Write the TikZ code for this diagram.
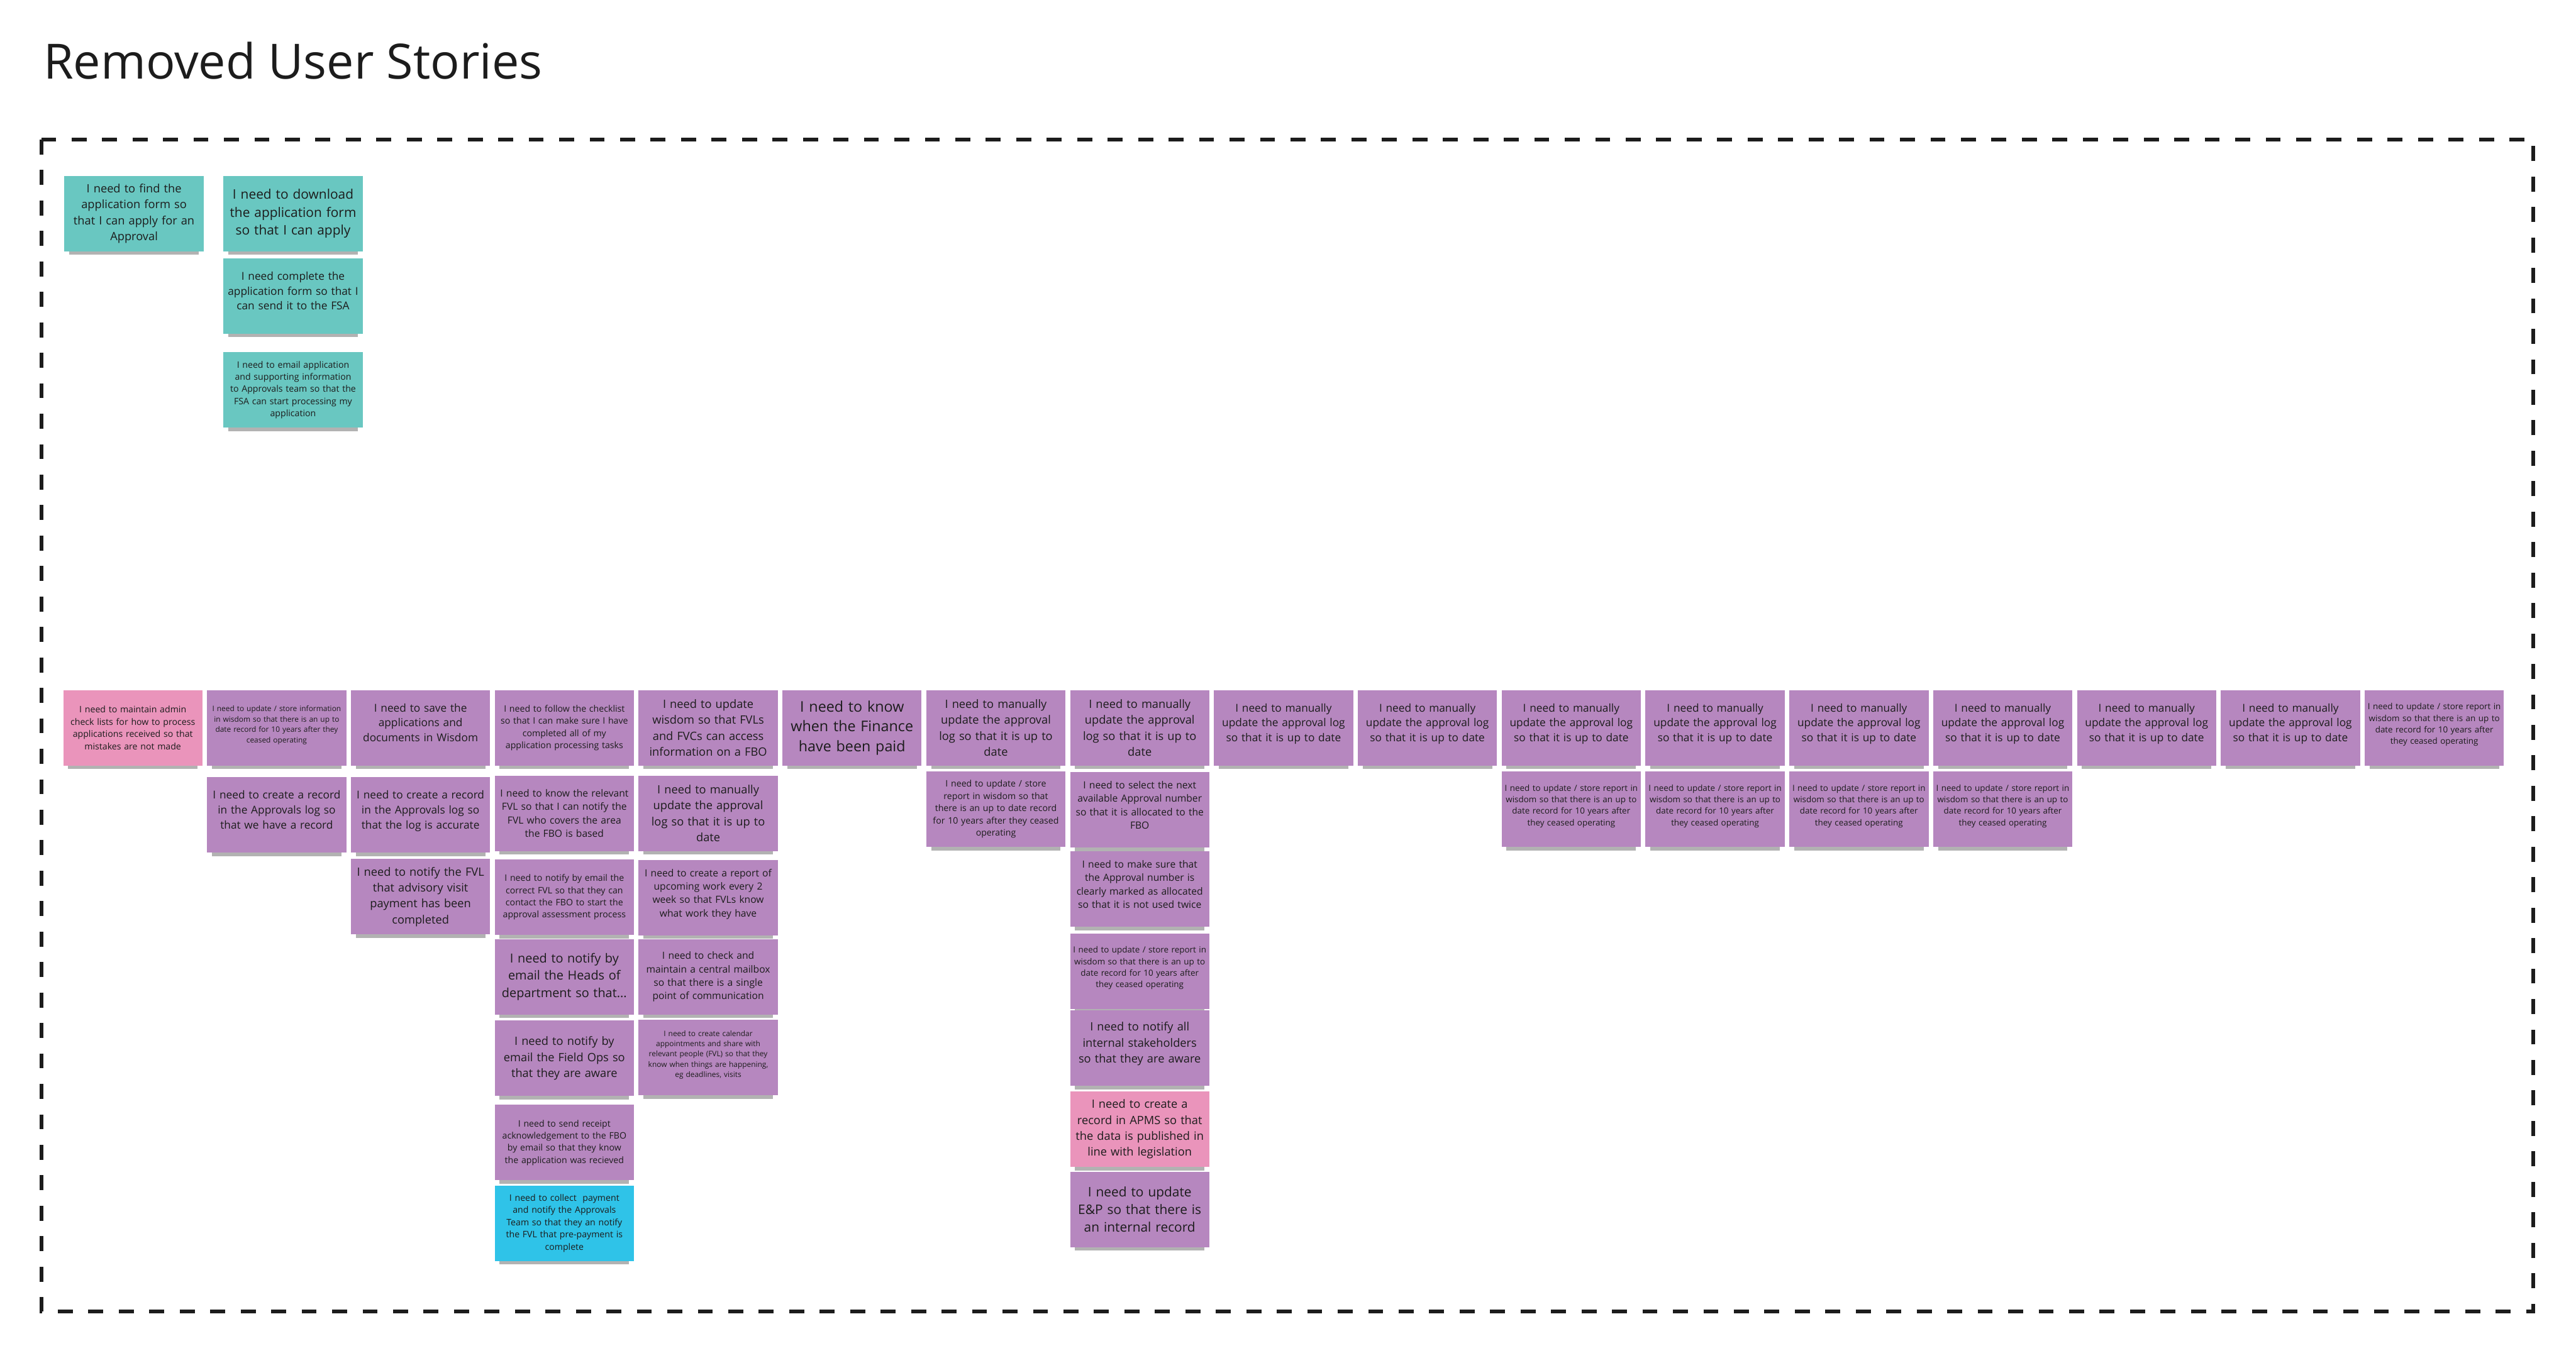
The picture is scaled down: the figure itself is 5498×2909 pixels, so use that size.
\documentclass[tikz,border=0pt]{standalone}
\usepackage{fontspec}
\setmainfont{Open Sans}
\usetikzlibrary{shadows}
\definecolor{noteteal}{HTML}{69C7C1}
\definecolor{noteviolet}{HTML}{B687BF}
\definecolor{notepink}{HTML}{EA94BB}
\definecolor{noteblue}{HTML}{2FC3E8}
\definecolor{ink}{HTML}{1C1C1C}
\newcommand{\liftup}{\\[-0.4em]\mbox{}}

\begin{document}
\begin{tikzpicture}[x=0.01cm,y=-0.01cm,
  sticky/.style={fill=#1, text=ink, align=center, inner sep=0pt,
    minimum width=2.97cm, minimum height=1.61cm, text width=2.85cm,
    drop shadow={shadow xshift=0cm, shadow yshift=-0.14cm, shadow scale=0.93,
      fill=black, opacity=0.3}},
  fs/.style 2 args={font=\fontsize{#1}{#2}\selectfont},
  s16/.style={fs={4.55}{6.26}},
  s18/.style={fs={5.12}{7.0}},
  s19/.style={fs={5.4}{7.4}},
  s21/.style={fs={5.97}{8.17}},
  s23/.style={fs={6.6}{9.0}},
  s25/.style={fs={6.97}{9.67}},
  s27/.style={fs={7.6}{10.4}},
  s28/.style={fs={7.97}{10.8}},
  s31/.style={fs={8.9}{12.1}},
  storyframe/.style={draw=ink, line width=0.08cm, dash pattern=on 0.32cm off 0.33cm}]
  \useasboundingbox (0,0) rectangle (5498,2909);

  \node[anchor=base west, inner sep=0pt, text=ink, fs={29.5}{35}] (title) at (92,168) {Removed User Stories};
  \draw[storyframe] (89,298) rectangle (5407,2800);

  % applicant stories
  \node[sticky=noteteal, s25] (t1) at (286,456) {I need to find the\\application form so\\that I can apply for an\\Approval};
  \node[sticky=noteteal, s28] (t2) at (625.5,456) {I need to download\\the application form\\so that I can apply};
  \node[sticky=noteteal, s23] (t3) at (625.5,632) {I need complete the\\application form so that I\\can send it to the FSA\liftup};
  \node[sticky=noteteal, s19] (t4) at (625.5,832.5) {I need to email application\\and supporting information\\to Approvals team so that the\\FSA can start processing my\\application};

  % columns 1--3
  \node[sticky=notepink, s19] (c1-1) at (283.5,1554) {I need to maintain admin\\check lists for how to process\\applications received so that\\mistakes are not made};
  \node[sticky=noteviolet, s16] (c2-1) at (590.5,1554) {I need to update / store information\\in wisdom so that there is an up to\\date record for 10 years after they\\ceased operating\liftup};
  \node[sticky=noteviolet, s23] (c2-2) at (590.5,1740) {I need to create a record\\in the Approvals log so\\that we have a record\liftup};
  \node[sticky=noteviolet, s23] (c3-1) at (897.5,1554) {I need to save the\\applications and\\documents in Wisdom\liftup};
  \node[sticky=noteviolet, s23] (c3-2) at (897.5,1740) {I need to create a record\\in the Approvals log so\\that the log is accurate\liftup};
  \node[sticky=noteviolet, s25] (c3-3) at (897.5,1914.5) {I need to notify the FVL\\that advisory visit\\payment has been\\completed};

  % column 4
  \node[sticky=noteviolet, s19] (c4-1) at (1204.5,1554) {I need to follow the checklist\\so that I can make sure I have\\completed all of my\\application processing tasks};
  \node[sticky=noteviolet, s21] (c4-2) at (1204.5,1736.5) {I need to know the relevant\\FVL so that I can notify the\\FVL who covers the area\\the FBO is based};
  \node[sticky=noteviolet, s19] (c4-3) at (1204.5,1915.5) {I need to notify by email the\\correct FVL so that they can\\contact the FBO to start the\\approval assessment process};
  \node[sticky=noteviolet, s27] (c4-4) at (1204.5,2085.5) {I need to notify by\\email the Heads of\\department so that...};
  \node[sticky=noteviolet, s25] (c4-5) at (1204.5,2259.5) {I need to notify by\\email the Field Ops so\\that they are aware};
  \node[sticky=noteviolet, s19] (c4-6) at (1204.5,2439.5) {I need to send receipt\\acknowledgement to the FBO\\by email so that they know\\the application was recieved};
  \node[sticky=noteblue, s19] (c4-7) at (1204.5,2611.5) {I need to collect\ \ payment\\and notify the Approvals\\Team so that they an notify\\the FVL that pre-payment is\\complete};

  % column 5
  \node[sticky=noteviolet, s25] (c5-1) at (1511.5,1554) {I need to update\\wisdom so that FVLs\\and FVCs can access\\information on a FBO};
  \node[sticky=noteviolet, s25] (c5-2) at (1511.5,1736.5) {I need to manually\\update the approval\\log so that it is up to\\date};
  \node[sticky=noteviolet, s21] (c5-3) at (1511.5,1916.5) {I need to create a report of\\upcoming work every 2\\week so that FVLs know\\what work they have\liftup};
  \node[sticky=noteviolet, s21] (c5-4) at (1511.5,2085.5) {I need to check and\\maintain a central mailbox\\so that there is a single\\point of communication};
  \node[sticky=noteviolet, s16] (c5-5) at (1511.5,2258) {I need to create calendar\\appointments and share with\\relevant people (FVL) so that they\\know when things are happening,\\eg deadlines, visits\liftup};

  % columns 6--8
  \node[sticky=noteviolet, s31] (c6-1) at (1818.5,1554) {I need to know\\when the Finance\\have been paid};
  \node[sticky=noteviolet, s25] (c7-1) at (2125.5,1554) {I need to manually\\update the approval\\log so that it is up to\\date};
  \node[sticky=noteviolet, s19] (c7-2) at (2125.5,1727.5) {I need to update / store\\report in wisdom so that\\there is an up to date record\\for 10 years after they ceased\\operating};
  \node[sticky=noteviolet, s25] (c8-1) at (2432.5,1554) {I need to manually\\update the approval\\log so that it is up to\\date};
  \node[sticky=noteviolet, s21] (c8-2) at (2432.5,1729) {I need to select the next\\available Approval number\\so that it is allocated to the\\FBO\liftup};
  \node[sticky=noteviolet, s21] (c8-3) at (2432.5,1898) {I need to make sure that\\the Approval number is\\clearly marked as allocated\\so that it is not used twice\liftup};
  \node[sticky=noteviolet, s18] (c8-4) at (2432.5,2073.5) {I need to update / store report in\\wisdom so that there is an up to\\date record for 10 years after\\they ceased operating\liftup};
  \node[sticky=noteviolet, s25] (c8-5) at (2432.5,2238) {I need to notify all\\internal stakeholders\\so that they are aware\liftup};
  \node[sticky=notepink, s25] (c8-6) at (2432.5,2411) {I need to create a\\record in APMS so that\\the data is published in\\line with legislation};
  \node[sticky=noteviolet, s28] (c8-7) at (2432.5,2582) {I need to update\\E\&P so that there is\\an internal record};

  % columns 9--17
  \foreach \i in {9,...,16}
    \node[sticky=noteviolet, s23] (c\i-1) at ({283.5+(\i-1)*307},1554) {I need to manually\\update the approval log\\so that it is up to date\liftup};
  \foreach \i in {11,...,14}
    \node[sticky=noteviolet, s18] (c\i-2) at ({283.5+(\i-1)*307},1727.5) {I need to update / store report in\\wisdom so that there is an up to\\date record for 10 years after\\they ceased operating\liftup};
  \node[sticky=noteviolet, s18] (c17-1) at (5195.5,1554) {I need to update / store report in\\wisdom so that there is an up to\\date record for 10 years after\\they ceased operating\liftup};
\end{tikzpicture}
\end{document}
